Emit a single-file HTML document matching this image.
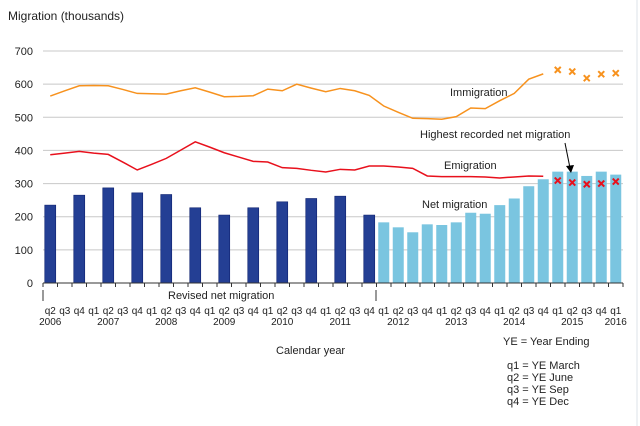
<!DOCTYPE html>
<html><head><meta charset="utf-8"><style>
body{margin:0;background:#fff;}
svg{display:block;font-family:"Liberation Sans",Arial,sans-serif;}
</style></head><body>
<svg id="c" width="640" height="426" viewBox="0 0 640 426">
<line x1="637" y1="0" x2="637" y2="426" stroke="#dde3ea" stroke-width="1"/>
<text x="8" y="20" font-size="12" fill="#222">Migration (thousands)</text>
<g id="grid"></g><g id="bars"></g><g id="lines"></g><g id="xaxis"></g>
<text x="450" y="96" font-size="11" fill="#222">Immigration</text>
<text x="420" y="138" font-size="11" fill="#222">Highest recorded net migration</text>
<line x1="565" y1="143" x2="570" y2="168" stroke="#000" stroke-width="1"/>
<polygon points="566,166 574,165 571,173" fill="#000"/>
<text x="444" y="169" font-size="11" fill="#222">Emigration</text>
<text x="422" y="208" font-size="11" fill="#222">Net migration</text>
<text x="168" y="299" font-size="11" fill="#222">Revised net migration</text>
<line x1="43" y1="290" x2="43" y2="301" stroke="#333"/>
<line x1="376" y1="290" x2="376" y2="301" stroke="#333"/>
<text x="276" y="354" font-size="11" fill="#222">Calendar year</text>
<g font-size="11" fill="#222">
<text x="503" y="345">YE = Year Ending</text>
<text x="507" y="369">q1 = YE March</text>
<text x="507" y="381">q2 = YE June</text>
<text x="507" y="393">q3 = YE Sep</text>
<text x="507" y="405">q4 = YE Dec</text>
</g>
</svg>
<script>
const quarters=["q2","q3","q4","q1","q2","q3","q4","q1","q2","q3","q4","q1","q2","q3","q4","q1","q2","q3","q4","q1","q2","q3","q4","q1","q2","q3","q4","q1","q2","q3","q4","q1","q2","q3","q4","q1","q2","q3","q4","q1"];
const years=["2006","2007","2008","2009","2010","2011","2012","2013","2014","2015","2016"];
const yTicks=[0,100,200,300,400,500,600,700];
const revisedNet=[235,null,265,null,287,null,272,null,267,null,227,null,205,null,227,null,245,null,255,null,262,null,205];
const netMigration=[183,168,153,177,175,183,212,209,235,255,292,313,336,336,323,336,327];
const immigration=[564,580,595,596,595,584,572,571,570,580,589,576,562,563,565,585,580,600,588,577,587,580,566,534,515,497,496,494,502,528,526,550,572,615,631];
const immigrationProv=[643,638,618,630,633];
const emigration=[387,392,397,392,388,365,341,358,376,401,426,410,393,380,367,365,348,346,340,335,343,341,353,353,350,346,323,321,321,321,320,317,320,323,322];
const emigrationProv=[309,303,298,300,306];
const NS="http://www.w3.org/2000/svg";
const x0=43,slot=14.5,yb=283,ppu=232/700;
const X=i=>x0+slot*i+slot/2, Y=v=>yb-v*ppu;
function mk(t,a,p){const e=document.createElementNS(NS,t);for(const k in a)e.setAttribute(k,a[k]);document.getElementById(p).appendChild(e);return e;}
yTicks.forEach(v=>{
 if(v>0){const g=mk('line',{x1:x0,x2:623,y1:Y(v),y2:Y(v),stroke:'#c8c8c8','stroke-width':1},'grid');
 
 }
 const t=mk('text',{x:33,y:Y(v)+4,'text-anchor':'end','font-size':11,fill:'#222'},'grid');t.textContent=v;
 
 
});
revisedNet.forEach((v,i)=>{if(v==null)return;
 const r=mk('rect',{x:X(i)-5.5,y:Y(v),width:11,height:v*ppu,fill:'#243f94',stroke:'#0e2270','stroke-width':0.6},'bars');
 
 });
netMigration.forEach((v,i)=>{const k=i+23;
 const r=mk('rect',{x:X(k)-5.5,y:Y(v),width:11,height:v*ppu,fill:'#7ac5e0'},'bars');
 
 });
const pl=(arr,col,name)=>{const p=mk('polyline',{points:arr.map((v,i)=>X(i)+','+Y(v)).join(' '),fill:'none',stroke:col,'stroke-width':1.5},'lines');
 
 };
pl(immigration,'#f7921e','immigration-line');
pl(emigration,'#e8101c','emigration-line');
const cross=(arr,col,name)=>arr.forEach((v,i)=>{const cx=X(i+35),cy=Y(v);
 const p=mk('path',{d:`M${cx-3},${cy-3}L${cx+3},${cy+3}M${cx+3},${cy-3}L${cx-3},${cy+3}`,stroke:col,'stroke-width':2},'lines');
 
 });
cross(immigrationProv,'#f7921e','immigration-provisional-marker');
cross(emigrationProv,'#e8101c','emigration-provisional-marker');
const ax=mk('line',{x1:x0,x2:623,y1:yb,y2:yb,stroke:'#333'},'xaxis');


for(let i=0;i<=40;i++)mk('line',{x1:x0+slot*i,x2:x0+slot*i,y1:yb,y2:yb+4,stroke:'#333'},'xaxis');
quarters.forEach((q,i)=>{const t=mk('text',{x:X(i),y:314,'text-anchor':'middle','font-size':10,fill:'#222'},'xaxis');t.textContent=q;
 
 });
years.forEach((y,j)=>{const i=j===0?0:j*4+(j===10?-1:0);const t=mk('text',{x:j===0?X(0):X(j*4),y:325,'text-anchor':'middle','font-size':10,fill:'#222'},'xaxis');
 if(j===10)t.setAttribute('x',X(39));
 t.textContent=y;
 
 });
</script>
</body></html>
